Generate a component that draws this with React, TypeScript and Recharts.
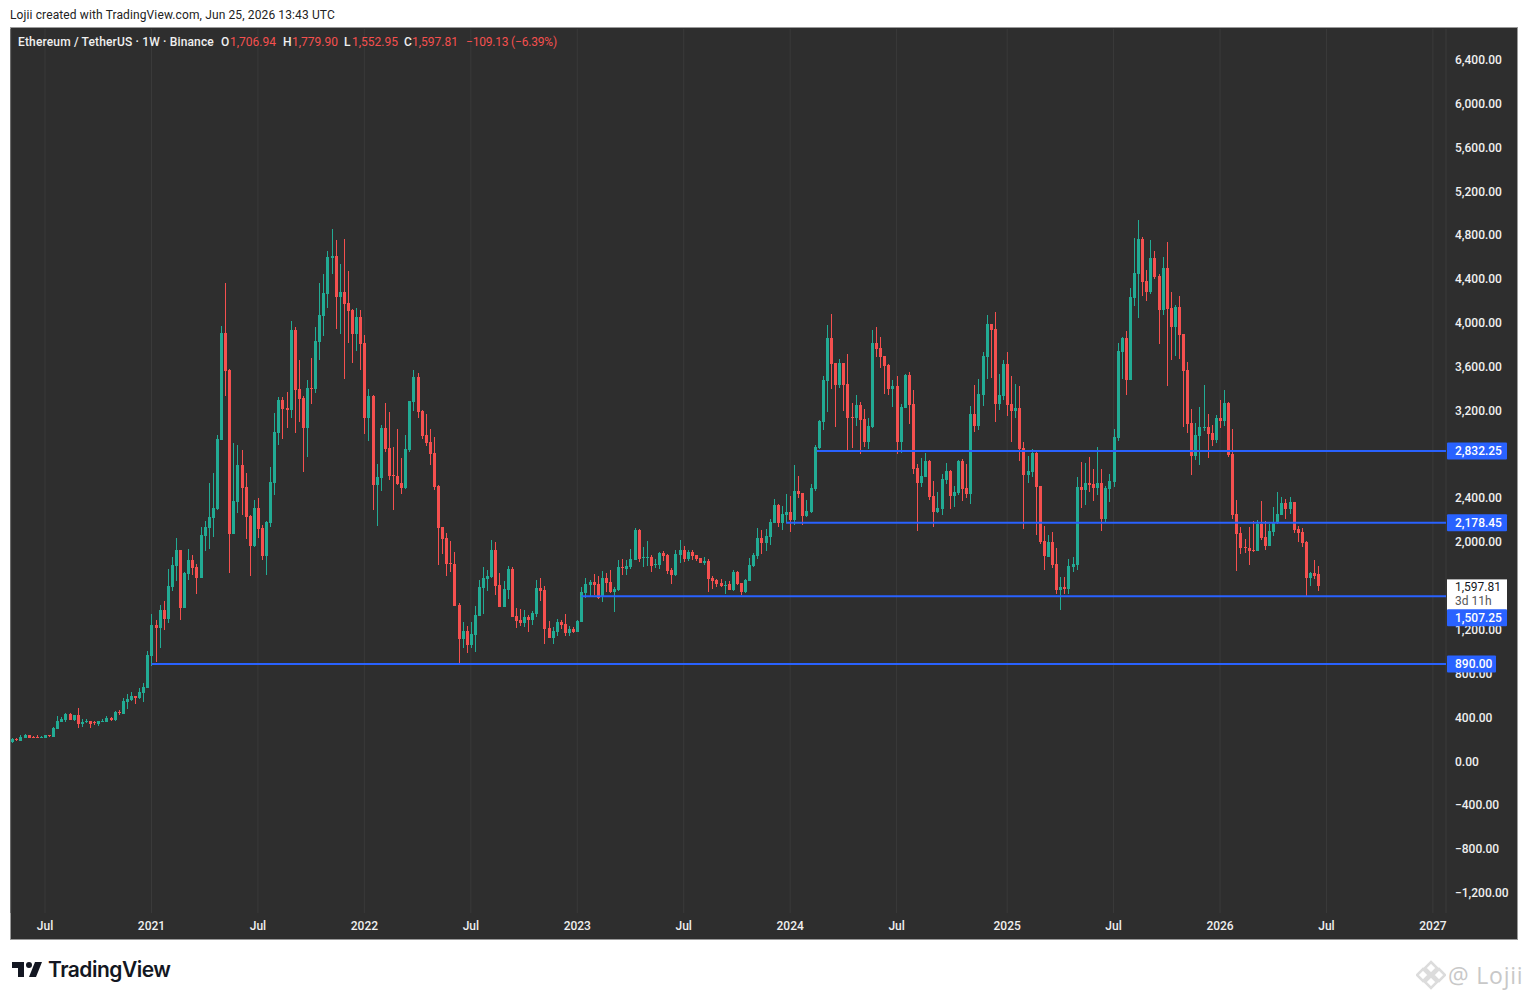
import React from "react";
import { Bar, CartesianGrid, ComposedChart, ReferenceLine, XAxis, YAxis } from "recharts";

const opens = [
  175,205,187,215,242,227,227,215,215,242,
  224,297,360,379,433,379,424,342,360,369,
  357,342,360,360,397,379,451,433,543,561,
  597,579,625,670,961,1245,1218,1382,1300,1591,
  1783,1929,1400,1710,1838,1774,1674,2057,2130,2221,
  2303,2933,3909,3571,2075,2367,2705,2504,2239,1966,
  2312,2130,1875,2176,2541,2997,3298,3225,3207,3936,
  3398,3316,3042,3407,3398,3827,4064,4265,4593,4612,
  4237,4283,4183,4119,3900,4055,3818,3134,3334,2523,
  2587,3042,2860,2614,2605,2541,2495,2842,3280,3508,
  3198,2979,2915,2814,2513,2139,2039,1811,1802,1428,
  1118,1191,1063,1154,1327,1583,1665,1683,1929,1610,
  1409,1565,1756,1327,1291,1263,1318,1291,1345,1583,
  1564,1218,1127,1181,1272,1254,1172,1209,1181,1272,
  1537,1610,1637,1619,1500,1674,1637,1546,1564,1774,
  1756,1774,1838,2112,1856,1856,1865,1793,1793,1902,
  1884,1747,1702,1884,1929,1847,1911,1884,1856,1811,
  1829,1674,1656,1628,1601,1619,1565,1729,1628,1546,
  1647,1783,1875,2039,1993,2048,2176,2340,2176,2249,
  2276,2203,2468,2449,2240,2276,2486,2860,3097,3471,
  3863,3635,3434,3635,3444,3143,3134,3252,3125,2915,
  3052,3818,3772,3699,3617,3398,3425,2915,3225,3526,
  3261,2678,2541,2596,2742,2422,2276,2303,2568,2650,
  2422,2450,2742,2495,2441,3170,3061,3343,3690,3991,
  3945,3261,3334,3626,3261,3197,3225,2860,2614,2641,
  2814,2513,2012,1866,2003,1802,1565,1592,1574,1775,
  1793,2504,2477,2541,2531,2495,2541,2212,2486,2550,
  2951,3736,3863,3480,4229,4448,4767,4384,4283,4594,
  4429,4119,4502,4137,3964,4146,3900,3572,3088,2787,
  2969,3042,3051,2996,2933,3134,3106,3270,2805,2258,
  2085,1957,1948,1930,1921,2167,2048,1966,2094,2176,
  2249,2358,2303,2367,2121,2094,2003,1674,1720,1706.94,
];

const closes = [
  205,196,223,242,215,215,215,224,242,230,
  306,369,388,433,379,424,342,360,372,342,
  348,369,369,397,379,451,442,552,570,597,
  579,634,679,971,1245,1218,1382,1300,1600,1792,
  1929,1400,1719,1838,1765,1674,2066,2139,2230,2312,
  2943,3909,3562,2075,2376,2705,2495,2230,1966,2312,
  2121,1875,2185,2550,3006,3298,3216,3207,3936,3389,
  3307,3042,3407,3398,3836,4073,4274,4603,4612,4237,
  4283,4173,4110,3900,4055,3809,3134,3334,2523,2596,
  3042,2851,2605,2605,2532,2495,2851,3289,3508,3189,
  2970,2906,2805,2504,2130,2030,1802,1802,1419,1118,
  1191,1063,1163,1336,1592,1674,1692,1929,1601,1409,
  1574,1756,1318,1282,1263,1318,1291,1355,1583,1555,
  1209,1127,1190,1272,1245,1172,1209,1181,1282,1546,
  1619,1637,1610,1491,1674,1628,1546,1573,1774,1765,
  1783,1847,2112,1847,1865,1865,1783,1802,1902,1875,
  1738,1702,1893,1929,1847,1911,1875,1847,1811,1829,
  1665,1647,1619,1601,1610,1565,1729,1619,1546,1656,
  1793,1884,2039,1993,2057,2185,2340,2176,2258,2276,
  2203,2468,2440,2240,2285,2495,2869,3106,3480,3863,
  3626,3434,3635,3434,3134,3134,3252,3115,2915,3061,
  3818,3764,3690,3608,3398,3425,2915,3234,3526,3252,
  2669,2541,2605,2742,2413,2276,2313,2577,2650,2422,
  2459,2742,2486,2441,3170,3061,3352,3699,3991,3937,
  3261,3343,3626,3252,3197,3225,2851,2614,2650,2814,
  2504,2003,1875,2003,1793,1565,1592,1574,1784,1802,
  2504,2477,2541,2522,2495,2541,2212,2495,2559,2960,
  3745,3863,3480,4238,4457,4767,4375,4283,4594,4420,
  4119,4502,4128,3964,4146,3891,3563,3079,2787,2978,
  3051,3051,2987,2933,3134,3106,3270,2796,2249,2076,
  1948,1948,1921,1921,2167,2039,1966,2103,2185,2258,
  2358,2303,2367,2112,2085,1993,1674,1720,1692,1597.81,
];

const highs = [
  212,217,242,251,242,236,242,233,242,242,
  315,415,406,442,442,424,488,388,388,369,
  369,369,388,415,406,461,470,579,616,634,
  597,671,716,1008,1345,1290,1428,1464,1756,1865,
  2038,1929,1728,1938,1883,1801,2139,2194,2540,2632,
  2979,3973,4365,3580,2905,2887,2842,2632,2249,2385,
  2404,2157,2194,2687,3179,3325,3325,3371,4018,3964,
  3663,3334,3480,3681,3964,4365,4447,4657,4858,4758,
  4539,4767,4475,4128,4137,4119,3891,3398,3343,2714,
  3070,3270,3189,2869,3033,2769,2979,3289,3572,3544,
  3207,3170,3033,2960,2523,2139,2085,2012,1911,1446,
  1273,1236,1273,1418,1656,1774,1747,2020,2002,1720,
  1647,1783,1774,1400,1391,1382,1336,1373,1656,1674,
  1601,1282,1227,1300,1291,1345,1236,1227,1291,1592,
  1674,1656,1710,1692,1738,1720,1747,1592,1838,1847,
  1838,1938,2130,2121,1957,2012,1884,1847,1911,1920,
  1893,1765,1929,2020,1966,1929,1929,1884,1856,1865,
  1847,1692,1665,1665,1647,1647,1747,1738,1628,1665,
  1856,1902,2130,2112,2121,2212,2395,2349,2331,2440,
  2422,2705,2604,2449,2385,2532,2888,3115,3517,3982,
  4082,3635,3672,3635,3717,3270,3343,3280,3216,3134,
  3937,3964,3872,3699,3626,3480,3517,3261,3535,3553,
  3389,2714,2769,2815,2751,2559,2459,2623,2723,2659,
  2513,2751,2760,2714,3243,3435,3489,3736,4073,3991,
  4100,3534,3662,3736,3517,3443,3425,2914,2787,2851,
  2832,2513,2148,2066,2094,1948,1683,1683,1847,1866,
  2595,2732,2723,2778,2668,2869,2668,2513,2623,3033,
  3818,3873,3927,4320,4776,4940,4785,4484,4758,4657,
  4448,4603,4739,4283,4165,4247,3900,3645,3216,3088,
  3234,3434,3170,3070,3161,3298,3389,3279,3033,2386,
  2140,2030,2140,2194,2203,2377,2194,2167,2322,2459,
  2413,2395,2413,2367,2148,2130,2012,1729,1839,1779.9,
];

const lows = [
  166,187,187,215,215,215,215,215,215,224,
  224,297,360,360,379,369,306,315,351,306,
  333,324,360,360,369,369,424,433,479,552,
  525,570,543,670,871,908,1035,1200,1263,1555,
  1646,1290,1400,1655,1701,1528,1674,1920,1938,2048,
  2294,2933,3334,1720,2075,2267,2249,2030,1692,1957,
  2039,1838,1701,2139,2431,2887,2942,3042,3134,3000,
  3098,2641,2778,3261,3362,3663,3882,4137,4447,3945,
  3900,3489,3818,3636,3745,3572,2988,2924,2295,2148,
  2468,2824,2568,2295,2523,2441,2486,2824,3198,3134,
  2942,2878,2705,2477,1793,1893,1692,1729,1419,890,
  1035,990,1035,999,1327,1346,1555,1675,1519,1409,
  1409,1482,1318,1218,1236,1227,1181,1245,1318,1464,
  1072,1127,1072,1145,1209,1145,1145,1172,1181,1272,
  1491,1500,1519,1482,1455,1546,1537,1364,1555,1701,
  1701,1756,1838,1820,1774,1783,1729,1765,1756,1829,
  1711,1619,1692,1811,1820,1829,1838,1829,1811,1793,
  1546,1574,1592,1592,1528,1565,1555,1610,1519,1537,
  1647,1774,1848,1893,1920,1975,2176,2139,2112,2176,
  2094,2158,2404,2158,2230,2267,2468,2851,3024,3189,
  3398,3052,3407,3197,2841,2860,3061,2805,2869,2851,
  3043,3690,3590,3352,3343,3234,2805,2814,3225,3079,
  2625,2103,2505,2596,2386,2139,2267,2249,2531,2303,
  2322,2431,2377,2404,2349,3006,3024,3243,3489,3498,
  3097,3206,3298,3152,2914,3134,2741,2121,2541,2596,
  2066,1984,1747,1866,1765,1528,1383,1528,1528,1729,
  1747,2312,2340,2459,2377,2431,2103,2176,2368,2504,
  2924,3489,3344,3480,4156,4046,4247,4201,4265,4402,
  3809,4074,3426,3663,3699,3672,3052,2997,2614,2751,
  2705,3015,2769,2878,2905,3042,3061,2778,2212,1739,
  1892,1898,1793,1911,1921,2021,1930,1966,2057,2167,
  2249,2212,2258,2085,2003,1957,1507,1601,1665,1552.95,
];

// week index of each time tick
const timeTicks = [8, 34, 60, 86, 112, 138, 164, 190, 216, 243, 269, 295, 321, 347];
const timeLabels = ["Jul", "2021", "Jul", "2022", "Jul", "2023", "Jul", "2024", "Jul", "2025", "Jul", "2026", "Jul", "2027"];
// 1,600 and 2,800 sit fully behind price badges in the picture
const priceTicks = [-1200, -800, -400, 0, 400, 800, 1200, 2000, 2400, 3200, 3600, 4000, 4400, 4800, 5200, 5600, 6000, 6400];

const levels = [890, 1507.25, 2178.45, 2832.25];
const levelStarts = [34, 139, 189, 196.5];
const lastPrice = 1597.81;

const WEEK_MIN = -0.32;
const WEEK_MAX = 350.2;
const PRICE_MIN = -1382;
const PRICE_MAX = 6683;
const UP = "#22ab94";
const DOWN = "#f5504f";
const BLUE = "#2962ff";
const FONT = "Roboto, sans-serif";

const rows = opens.map((open, i) => ({
  week: i,
  open,
  close: closes[i],
  range: [lows[i], highs[i]],
}));

const money = (v: number) => {
  const s = Math.abs(v).toLocaleString("en-US", { minimumFractionDigits: 2, maximumFractionDigits: 2 });
  return v < 0 ? "\u2212" + s : s;
};

const Candle = (props: any) => {
  const { x, y, width, height, payload } = props;
  const [low, high] = payload.range;
  const perUnit = Math.abs(height) / (high - low);
  const top = Math.min(y, y + height);
  const cx = Math.round(x + width / 2 - 0.5);
  const bodyTop = top + (high - Math.max(payload.open, payload.close)) * perUnit;
  const bodyH = Math.abs(payload.open - payload.close) * perUnit;
  const color = payload.close >= payload.open ? UP : DOWN;
  return (
    <g shapeRendering="crispEdges">
      <rect x={cx} y={top} width={1} height={Math.abs(height)} fill={color} />
      <rect x={cx - 1} y={bodyTop} width={3} height={Math.max(bodyH, 1)} fill={color} />
    </g>
  );
};

const PriceTick = (props: any) => {
  const { x, y, payload } = props;
  return (
    <text x={x + 1} y={y + 4} fill="#f0f0f0" fontSize={12} fontWeight={500} fontFamily={FONT}>
      {money(payload.value)}
    </text>
  );
};

const TimeTick = (props: any) => {
  const { x, y, payload } = props;
  const label = timeLabels[timeTicks.indexOf(payload.value)];
  return (
    <text x={x} y={y + 9} textAnchor="middle" fill="#f0f0f0" fontSize={12} fontWeight={500} fontFamily={FONT}>
      {label}
    </text>
  );
};

const levelBadge = (value: number, shift: number, width: number) => (props: any) => {
  const { viewBox } = props;
  const left = viewBox.x + viewBox.width + 1;
  const cy = viewBox.y + shift;
  return (
    <g>
      <rect x={left} y={cy - 8.5} width={width} height={17} rx={1} fill={BLUE} />
      <text x={left + 8} y={cy + 4} fill="#fff" fontSize={12} fontWeight={500} fontFamily={FONT}>
        {money(value)}
      </text>
    </g>
  );
};

const lastBadge = (props: any) => {
  const { viewBox } = props;
  const left = viewBox.x + viewBox.width + 1;
  const top = viewBox.y - 7;
  return (
    <g>
      <rect x={left} y={top} width={60} height={31} fill="#fff" />
      <text x={left + 8} y={top + 12} fill="#131722" fontSize={12} fontFamily={FONT}>
        {money(lastPrice)}
      </text>
      <text x={left + 8} y={top + 26} fill="#555" fontSize={12} fontFamily={FONT}>
        3d 11h
      </text>
    </g>
  );
};

const legendStyle: React.CSSProperties = {
  position: "absolute",
  top: 35,
  fontFamily: FONT,
  fontSize: 12,
  lineHeight: "14px",
  whiteSpace: "nowrap",
};

const LegendText = ({ left, color, text, weight, spacing }: any) => (
  <div style={{ ...legendStyle, left, color, fontWeight: weight, letterSpacing: spacing }}>{text}</div>
);

const App: React.FC = () => {
  return (
    <div style={{ position: "absolute", left: 0, top: 0, width: 1528, height: 1000, background: "#fff", overflow: "hidden" }}>
      <div style={{ position: "absolute", left: 10, top: 8, fontFamily: FONT, fontSize: 12, lineHeight: "14px", color: "#222", whiteSpace: "nowrap", letterSpacing: 0.12 }}>
        Lojii created with TradingView.com, Jun 25, 2026 13:43 UTC
      </div>
      <div style={{ position: "absolute", left: 10, top: 27, width: 1506, height: 911, background: "#2e2e2e", border: "1px solid #9a9a9a" }} />

      <div style={{ position: "absolute", left: 0, top: 0 }}>
        <ComposedChart width={1528} height={1000} data={rows} margin={{ top: 29, right: 11, bottom: 60, left: 11 }}>
          <CartesianGrid horizontal={false} stroke="#3a3a3a" />
          <XAxis
            dataKey="week"
            type="number"
            domain={[WEEK_MIN, WEEK_MAX]}
            allowDataOverflow
            ticks={timeTicks}
            interval={0}
            height={27}
            axisLine={false}
            tickLine={false}
            tick={<TimeTick />}
          />
          <YAxis
            orientation="right"
            type="number"
            domain={[PRICE_MIN, PRICE_MAX]}
            allowDataOverflow
            ticks={priceTicks}
            interval={0}
            width={71}
            axisLine={false}
            tickLine={false}
            tick={<PriceTick />}
          />
          <Bar dataKey="range" barSize={3} isAnimationActive={false} shape={<Candle />} />
        </ComposedChart>
      </div>

      {/* second layer so the price badges cover the axis labels */}
      <div style={{ position: "absolute", left: 0, top: 0 }}>
        <ComposedChart width={1528} height={1000} data={rows} margin={{ top: 29, right: 82, bottom: 87, left: 11 }}>
          <XAxis dataKey="week" type="number" domain={[WEEK_MIN, WEEK_MAX]} allowDataOverflow hide />
          <YAxis type="number" domain={[PRICE_MIN, PRICE_MAX]} allowDataOverflow hide />
          <ReferenceLine
            segment={[{ x: levelStarts[0], y: levels[0] }, { x: WEEK_MAX, y: levels[0] }]}
            stroke={BLUE}
            strokeWidth={2}
            label={levelBadge(levels[0], 0, 49)}
          />
          <ReferenceLine
            segment={[{ x: levelStarts[2], y: levels[2] }, { x: WEEK_MAX, y: levels[2] }]}
            stroke={BLUE}
            strokeWidth={2}
            label={levelBadge(levels[2], 0, 60)}
          />
          <ReferenceLine
            segment={[{ x: levelStarts[3], y: levels[3] }, { x: WEEK_MAX, y: levels[3] }]}
            stroke={BLUE}
            strokeWidth={2}
            label={levelBadge(levels[3], 0, 60)}
          />
          <ReferenceLine
            segment={[{ x: WEEK_MAX - 1, y: lastPrice }, { x: WEEK_MAX, y: lastPrice }]}
            stroke="none"
            label={lastBadge}
          />
          <ReferenceLine
            segment={[{ x: levelStarts[1], y: levels[1] }, { x: WEEK_MAX, y: levels[1] }]}
            stroke={BLUE}
            strokeWidth={2}
            label={levelBadge(levels[1], 21.5, 60)}
          />
        </ComposedChart>
      </div>

      <LegendText left={18} color="#f0f0f0" weight={500} spacing={0.15} text={"Ethereum / TetherUS \u00b7 1W \u00b7 Binance"} />
      <LegendText left={221} color="#f0f0f0" weight={500} text="O" />
      <LegendText left={230} color={DOWN} text="1,706.94" />
      <LegendText left={283} color="#f0f0f0" weight={500} text="H" />
      <LegendText left={292} color={DOWN} text="1,779.90" />
      <LegendText left={344} color="#f0f0f0" weight={500} text="L" />
      <LegendText left={352} color={DOWN} text="1,552.95" />
      <LegendText left={404} color="#f0f0f0" weight={500} text="C" />
      <LegendText left={412} color={DOWN} text="1,597.81" />
      <LegendText left={466} color={DOWN} spacing={-0.2} text={"\u2212109.13 (\u22126.39%)"} />

      <svg style={{ position: "absolute", left: 10, top: 956 }} width={36} height={28} viewBox="0 0 36 28">
        <path fill="#131722" d="M14 6H2v6h6v9h6V6Zm12 15h-7l6-15h7l-6 15Zm-7-9a3 3 0 1 0 0-6 3 3 0 0 0 0 6Z" />
      </svg>
      <div style={{ position: "absolute", left: 48, top: 957, fontFamily: "Inter, sans-serif", fontSize: 21, fontWeight: 600, lineHeight: "26px", color: "#131722", letterSpacing: -0.5 }}>
        TradingView
      </div>

      <svg style={{ position: "absolute", left: 1416, top: 960 }} width={30} height={30} viewBox="0 0 30 30">
        <g fill="none" stroke="#dcdcdc" strokeWidth={2.5}>
          <path d="M15 2 L21 8 L15 14 L9 8 Z" />
          <path d="M7 9 L13 15 L7 21 L1 15 Z" />
          <path d="M23 9 L29 15 L23 21 L17 15 Z" />
          <path d="M15 16 L21 22 L15 28 L9 22 Z" />
        </g>
      </svg>
      <div style={{ position: "absolute", left: 1448, top: 960, fontFamily: "'Open Sans', sans-serif", fontSize: 23, lineHeight: "30px", color: "#c8c8c8", letterSpacing: 0.8 }}>
        @ Lojii
      </div>
    </div>
  );
};

export default App;
